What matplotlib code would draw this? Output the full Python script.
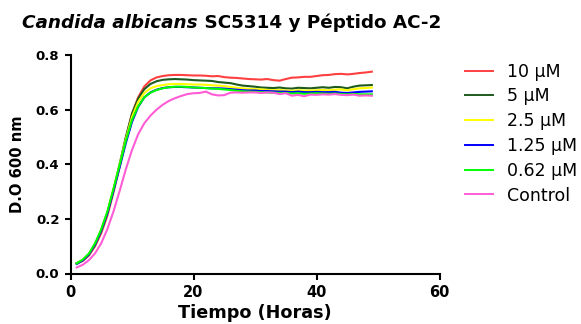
import matplotlib
matplotlib.use("Agg")
import matplotlib.pyplot as plt

hours = list(range(1, 50))

od_10uM = [0.036, 0.046, 0.066, 0.100, 0.148, 0.212, 0.298, 0.392, 0.495, 0.585,
           0.645, 0.685, 0.707, 0.718, 0.723, 0.726, 0.727, 0.727, 0.726, 0.725,
           0.725, 0.724, 0.722, 0.723, 0.719, 0.717, 0.716, 0.714, 0.712, 0.711,
           0.710, 0.712, 0.708, 0.706, 0.712, 0.717, 0.718, 0.720, 0.720, 0.723,
           0.726, 0.727, 0.730, 0.731, 0.729, 0.731, 0.734, 0.736, 0.739]
od_5uM = [0.038, 0.049, 0.070, 0.106, 0.156, 0.222, 0.307, 0.402, 0.500, 0.585,
          0.640, 0.675, 0.694, 0.704, 0.709, 0.711, 0.712, 0.711, 0.710, 0.708,
          0.707, 0.706, 0.705, 0.701, 0.699, 0.697, 0.692, 0.688, 0.686, 0.684,
          0.681, 0.680, 0.679, 0.681, 0.678, 0.677, 0.680, 0.679, 0.678, 0.680,
          0.682, 0.680, 0.683, 0.682, 0.678, 0.684, 0.688, 0.689, 0.690]
od_2_5uM = [0.037, 0.050, 0.072, 0.109, 0.160, 0.226, 0.311, 0.400, 0.492, 0.573,
            0.628, 0.661, 0.678, 0.686, 0.690, 0.693, 0.694, 0.694, 0.693, 0.692,
            0.692, 0.691, 0.689, 0.688, 0.686, 0.683, 0.680, 0.678, 0.676, 0.675,
            0.674, 0.672, 0.671, 0.672, 0.670, 0.669, 0.671, 0.670, 0.670, 0.671,
            0.672, 0.671, 0.673, 0.674, 0.671, 0.675, 0.678, 0.679, 0.681]
od_1_25uM = [0.035, 0.048, 0.070, 0.107, 0.157, 0.221, 0.304, 0.390, 0.478, 0.555,
             0.610, 0.645, 0.663, 0.673, 0.679, 0.682, 0.683, 0.683, 0.682, 0.681,
             0.680, 0.679, 0.678, 0.678, 0.677, 0.675, 0.673, 0.671, 0.670, 0.670,
             0.668, 0.668, 0.667, 0.666, 0.666, 0.664, 0.666, 0.664, 0.664, 0.665,
             0.664, 0.664, 0.665, 0.662, 0.661, 0.663, 0.665, 0.666, 0.667]
od_0_62uM = [0.037, 0.051, 0.073, 0.111, 0.162, 0.227, 0.311, 0.398, 0.486, 0.562,
             0.612, 0.645, 0.662, 0.672, 0.678, 0.682, 0.684, 0.684, 0.683, 0.681,
             0.680, 0.679, 0.677, 0.676, 0.674, 0.672, 0.669, 0.667, 0.666, 0.665,
             0.664, 0.663, 0.662, 0.661, 0.661, 0.659, 0.660, 0.658, 0.659, 0.660,
             0.659, 0.658, 0.659, 0.657, 0.656, 0.657, 0.656, 0.656, 0.656]
od_control = [0.022, 0.032, 0.049, 0.074, 0.111, 0.163, 0.228, 0.303, 0.382, 0.452,
              0.510, 0.550, 0.578, 0.600, 0.618, 0.632, 0.642, 0.650, 0.657, 0.660,
              0.661, 0.666, 0.656, 0.652, 0.653, 0.662, 0.663, 0.662, 0.663, 0.663,
              0.661, 0.663, 0.662, 0.657, 0.660, 0.651, 0.654, 0.649, 0.655, 0.654,
              0.656, 0.655, 0.657, 0.654, 0.653, 0.655, 0.651, 0.652, 0.651]

series_labels = ["10 µM", "5 µM", "2.5 µM", "1.25 µM", "0.62 µM", "Control"]
series_values = [od_10uM, od_5uM, od_2_5uM, od_1_25uM, od_0_62uM, od_control]
series_colors = ["#FF4040", "#1E5A1E", "#FFFF00", "#0000FF", "#00FF00", "#FF5CD6"]

x_ticks = [0, 20, 40, 60]
y_ticks = [0.0, 0.2, 0.4, 0.6, 0.8]

plt.rcParams['font.family'] = ['DejaVu Sans']

W, H = 581, 324
fig = plt.figure(figsize=(W / 100, H / 100), dpi=100)
ax = fig.add_axes([70.5 / W, (H - 273.5) / H, 369 / W, 218.5 / H])

lines = []
for lab, vals, col in zip(series_labels, series_values, series_colors):
    ln, = ax.plot(hours, vals, color=col, lw=1.5, label=lab, solid_joinstyle='round')
    lines.append(ln)

ax.set_xlim(0, 60)
ax.set_ylim(0, 0.8)
ax.set_xticks(x_ticks)
ax.set_yticks(y_ticks)
ax.set_xticklabels([str(v) for v in x_ticks], fontsize=10.5, fontweight='bold')
ax.set_yticklabels([f"{v:.1f}" for v in y_ticks], fontsize=9.5, fontweight='bold')
for s in ['top', 'right']:
    ax.spines[s].set_visible(False)
for s in ['left', 'bottom']:
    ax.spines[s].set_linewidth(1.5)
ax.tick_params(axis='both', direction='out', length=4.5, width=1.5, pad=3.5)

ax.set_xlabel("Tiempo (Horas)", fontsize=12.7, fontweight='bold')
ax.set_ylabel("D.O 600 nm", fontsize=10.6, fontweight='bold')
ax.xaxis.label.set_va('center')
ax.yaxis.label.set_va('center')
ax.xaxis.set_label_coords(0.5, (273.5 - 313.5) / 218.5)
ax.yaxis.set_label_coords((18 - 70.5) / 369, 0.5)

leg = fig.legend(handles=lines, loc='upper left', bbox_to_anchor=(465 / W, (H - 62.7) / H),
                 frameon=False, borderaxespad=0, borderpad=0, handlelength=1.6,
                 handletextpad=0.8, labelspacing=0.39, fontsize=12.5)
for h in leg.get_lines():
    h.set_linewidth(1.4)

# title with mixed styles
base_y = (H - 28) / H
t1 = fig.text(22 / W, base_y, "Candida albicans", fontsize=13.2, fontweight='bold',
              fontstyle='italic', va='baseline', ha='left')
fig.canvas.draw()
bb = t1.get_window_extent(renderer=fig.canvas.get_renderer())
fig.text(bb.x1 / W, base_y, " SC5314 y Péptido AC-2", fontsize=13.2, fontweight='bold',
         va='baseline', ha='left')

fig.savefig("out.png", dpi=100)
